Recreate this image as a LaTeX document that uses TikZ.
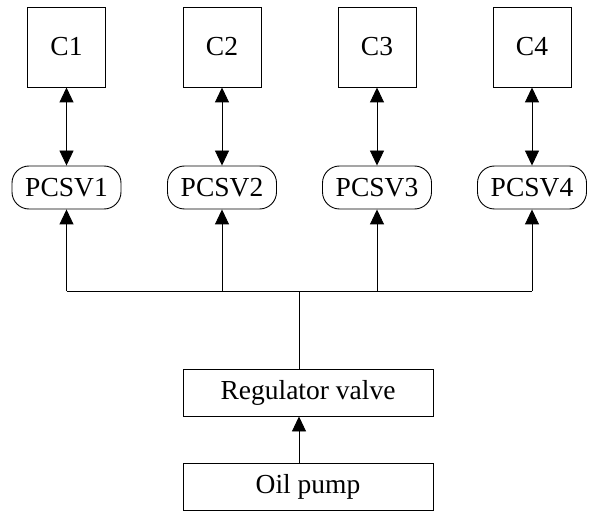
\documentclass[tikz,border=0pt]{standalone}
\usepackage{fontspec}
\setmainfont{Liberation Serif}
\usepackage{tikz}
\usetikzlibrary{arrows.meta,positioning}
\newcommand{\lbl}{\fontsize{27.5}{32}\selectfont}
\tikzset{
  cb/.style={draw,line width=0.9pt,minimum width=78pt,minimum height=80pt,inner sep=0pt,font=\lbl},
  vl/.style={draw,line width=0.9pt,rounded corners=17pt,minimum width=109pt,minimum height=43pt,inner sep=0pt,font=\lbl},
  bx/.style={draw,line width=0.9pt,minimum width=250pt,minimum height=47pt,inner sep=0pt,font=\lbl},
  ar/.style={-{Triangle[length=15pt,width=14pt]},line width=0.9pt},
  dar/.style={{Triangle[length=15pt,width=14pt]}-{Triangle[length=15pt,width=14pt]},line width=0.9pt}
}
\begin{document}
\begin{tikzpicture}[x=1pt,y=-1pt]
\useasboundingbox (0,0) rectangle (589,513);
\coordinate (bus) at (299,291);
\foreach \i/\xx in {1/66.5,2/222,3/377,4/532}{
  \node[cb] (c\i) at (\xx,47) {C\i};
  \node[vl] (v\i) at (\xx,187.5) {PCSV\i};
  \draw[dar] (c\i) -- (v\i);
  \draw[ar] (v\i |- bus) -- (v\i);
}
\draw[line width=0.9pt] (v1 |- bus) -- (v4 |- bus);
\node[bx] (reg) at (308,392.5) {Regulator valve};
\node[bx] (oil) at (308,487) {Oil pump};
\draw[line width=0.9pt] (reg.north -| bus) -- (bus);
\draw[ar] (oil.north -| bus) -- (reg.south -| bus);
\end{tikzpicture}
\end{document}
